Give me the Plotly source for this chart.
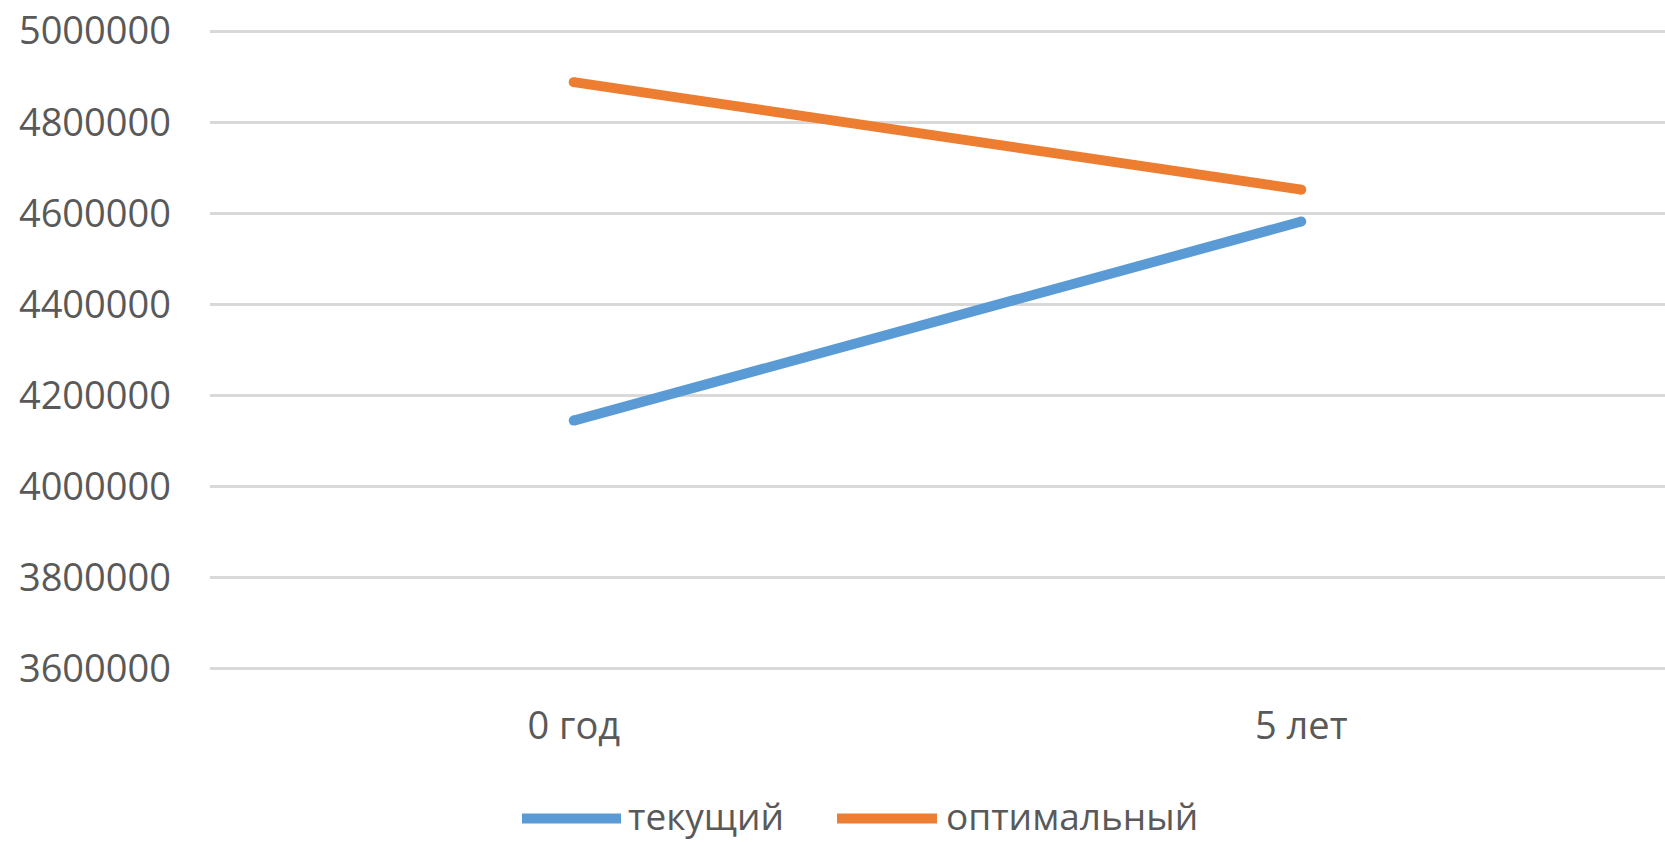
import plotly.graph_objects as go

categories = ["0 год", "5 лет"]
current_vals = [4145000, 4582000]
optimal_vals = [4888000, 4652000]
series_names = ["текущий", "оптимальный"]
series_colors = ["#5B9BD5", "#ED7D31"]

W, H = 1665, 842
ML, MR, MT, MB = 210, 0, 21.6, 163.6
FONT = "Open Sans"
GREY = "#595959"
FS = 38
LEG_FS = 37
LEG_Y = 816

def px_to_paper(x, y):
    pw = W - ML - MR
    ph = H - MT - MB
    return (x - ML) / pw, (H - MB - y) / ph

fig = go.Figure()
for name, vals, col in zip(series_names, [current_vals, optimal_vals], series_colors):
    fig.add_trace(go.Scatter(
        x=categories, y=vals, name=name, mode="lines+markers",
        line=dict(color=col, width=10),
        marker=dict(color=col, size=10, line=dict(width=0)),
        showlegend=False, hoverinfo="x+y+name"))

# custom legend (long line glyphs like the original)
legend_items = [(522, 621, 626), (837, 937, 944)]
shapes = []
annotations = []
for (x0, x1, tx), name, col in zip(legend_items, series_names, series_colors):
    px0, py = px_to_paper(x0, 819)
    px1, _ = px_to_paper(x1, 819)
    ptx, pty = px_to_paper(tx, LEG_Y)
    shapes.append(dict(type="line", xref="paper", yref="paper", x0=px0, x1=px1, y0=py, y1=py,
                       line=dict(color=col, width=10)))
    annotations.append(dict(xref="paper", yref="paper", x=ptx, y=pty, text=name, showarrow=False,
                            xanchor="left", yanchor="middle",
                            font=dict(family=FONT, size=LEG_FS, color=GREY)))

fig.update_layout(
    width=W, height=H,
    margin=dict(l=ML, r=MR, t=MT, b=MB, pad=0),
    paper_bgcolor="white", plot_bgcolor="white",
    showlegend=False,
    shapes=shapes, annotations=annotations,
    xaxis=dict(type="category", range=[-0.5, 1.5], showgrid=False, zeroline=False,
               showline=False, ticks="", ticklabelstandoff=22,
               tickfont=dict(family=FONT, size=FS, color=GREY)),
    yaxis=dict(range=[3580000, 5020000], tick0=3600000, dtick=200000, tickformat="d",
               showgrid=True, gridcolor="#D9D9D9", gridwidth=3, zeroline=False,
               showline=False, ticks="", ticklabelstandoff=38,
               tickfont=dict(family=FONT, size=FS, color=GREY)),
)

fig.write_html("out.html")
